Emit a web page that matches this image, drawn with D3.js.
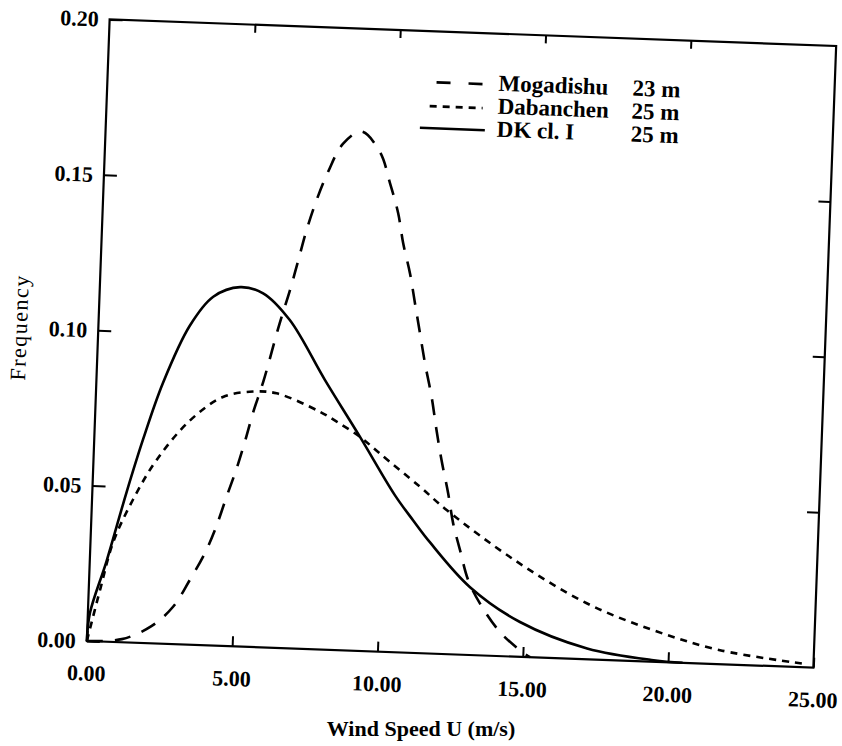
<!DOCTYPE html>
<html><head><meta charset="utf-8">
<script src="https://cdn.jsdelivr.net/npm/d3@7"></script>
<style>html,body{margin:0;padding:0;background:#fff;} svg{display:block}</style>
</head><body><svg id="chart" width="842" height="746"></svg>
<script>
// ---- data ----
const windTicks = [0, 5, 10, 15, 20, 25];
const freqTicks = [0, 0.05, 0.10, 0.15, 0.20];
const windTickLabels = ["0.00", "5.00", "10.00", "15.00", "20.00", "25.00"];
const freqTickLabels = ["0.00", "0.05", "0.10", "0.15", "0.20"];

const seriesNames = ["Mogadishu", "Dabanchen", "DK cl. I"];
const seriesHeights = ["23 m", "25 m", "25 m"];

const mogadishuU = [0, 1.2, 2.2, 2.92, 3.46, 3.94, 4.26, 4.62, 4.93, 5.18, 5.43, 5.74, 6.23, 6.53, 6.78, 7.03, 7.34, 7.7, 8.18, 8.8, 9.46, 9.84, 10.16, 10.37, 10.64, 10.85, 11.06, 11.27, 11.54, 11.75, 11.96, 12.23, 12.44, 12.71, 13.03, 13.46, 14.18, 14.9, 15.25];
const mogadishuF = [0, 0.001, 0.0055, 0.012, 0.0208, 0.0295, 0.0371, 0.048, 0.0572, 0.0659, 0.0755, 0.0855, 0.1045, 0.1148, 0.1245, 0.1345, 0.1444, 0.1536, 0.1628, 0.1669, 0.1605, 0.1507, 0.1411, 0.1315, 0.122, 0.1124, 0.1028, 0.0932, 0.0825, 0.0719, 0.0623, 0.0517, 0.0421, 0.0336, 0.024, 0.0167, 0.0078, 0.0021, 0];

const dabanchenU = [0, 0.4, 0.78, 1.41, 2.17, 3.26, 4.37, 5.4, 6.21, 7.72, 8.31, 9.13, 9.83, 11.25, 12.2, 14.6, 17.13, 19.46, 21.77, 24.6];
const dabanchenF = [0, 0.017, 0.032, 0.046, 0.059, 0.072, 0.080, 0.0821, 0.0818, 0.0764, 0.0734, 0.0688, 0.0637, 0.0535, 0.0463, 0.031, 0.018, 0.0101, 0.0045, 0.0012];

const dkU = [0, 0.07, 0.58, 1.17, 1.68, 2.29, 3.14, 3.91, 4.82, 5.62, 6.57, 7.85, 9.13, 10.4, 11.07, 11.67, 13.1, 14.86, 17.2, 19.5, 20.5];
const dkF = [0, 0.009, 0.026, 0.048, 0.0655, 0.0838, 0.1025, 0.1121, 0.1155, 0.1138, 0.1055, 0.0867, 0.0688, 0.0505, 0.0425, 0.0357, 0.0218, 0.0112, 0.0035, 0.0005, 0];

// ---- layout / styles ----
const W = 727, H = 622;
const styles = [
  {dash: "16,12", legendDash: "14,18", lx1: 329, lx2: 376, ly: 51},
  {dash: "7,6", legendDash: "7,6", lx1: 323, lx2: 376, ly: 75},
  {dash: null, legendDash: null, lx1: 314, lx2: 379, ly: 97}
];
const legendRowY = [57, 80, 103];

const svg = d3.select("#chart");
svg.append("rect").attr("width", 842).attr("height", 746).attr("fill", "#fff");

const g = svg.append("g")
  .attr("transform", "rotate(2.1, 461.75, 343.5) translate(98, 32.5)");

const x = d3.scaleLinear().domain([0, 25]).range([0, W]);
const y = d3.scaleLinear().domain([0, 0.2]).range([H, 0]);

const serif = "'Liberation Serif', 'Times New Roman', serif";

// bottom axis with labels
const xAxis = d3.axisBottom(x).tickValues(windTicks)
  .tickFormat((d, i) => windTickLabels[i]).tickSize(-10).tickPadding(24);
const gx = g.append("g").attr("transform", `translate(0,${H})`).call(xAxis);
// top axis ticks
const gxt = g.append("g").call(d3.axisTop(x).tickValues(windTicks.slice(1, -1)).tickSize(-8).tickFormat(""));
// left axis with labels
const yAxis = d3.axisLeft(y).tickValues(freqTicks)
  .tickFormat((d, i) => freqTickLabels[i]).tickSize(-13).tickPadding(11);
const gy = g.append("g").call(yAxis);
// right axis ticks
const gyr = g.append("g").attr("transform", `translate(${W},0)`)
  .call(d3.axisRight(y).tickValues(freqTicks.slice(1, -1)).tickSize(-12).tickFormat(""));

[gx, gxt, gy, gyr].forEach(a => {
  a.select(".domain").remove();
  a.selectAll(".tick line").attr("stroke", "#000").attr("stroke-width", 2);
  a.selectAll("text").attr("fill", "#000").attr("font-family", serif)
    .attr("font-weight", "bold").attr("font-size", 22);
});

// frame
g.append("rect").attr("x", 0).attr("y", 0).attr("width", W).attr("height", H)
  .attr("fill", "none").attr("stroke", "#000").attr("stroke-width", 2.2);

// curves
const seriesData = [
  mogadishuU.map((u, i) => [u, mogadishuF[i]]),
  dabanchenU.map((u, i) => [u, dabanchenF[i]]),
  dkU.map((u, i) => [u, dkF[i]])
];
const line = d3.line().x(d => x(d[0])).y(d => y(Math.max(0, d[1])))
  .curve(d3.curveCatmullRom.alpha(0.5));
seriesData.forEach((data, i) => {
  g.append("path").datum(data).attr("d", line)
    .attr("fill", "none").attr("stroke", "#000").attr("stroke-width", 2.6)
    .attr("stroke-dasharray", styles[i].dash);
});

// legend
seriesNames.forEach((name, i) => {
  const s = styles[i];
  g.append("line").attr("x1", s.lx1).attr("x2", s.lx2).attr("y1", s.ly).attr("y2", s.ly)
    .attr("stroke", "#000").attr("stroke-width", 2.6).attr("stroke-dasharray", s.legendDash);
  g.append("text").attr("x", 391).attr("y", legendRowY[i]).text(name)
    .attr("font-family", serif).attr("font-weight", "bold").attr("font-size", 23).attr("fill", "#000");
  g.append("text").attr("x", 525).attr("y", legendRowY[i]).text(seriesHeights[i])
    .attr("font-family", serif).attr("font-weight", "bold").attr("font-size", 23).attr("fill", "#000");
});

// axis titles
g.append("text").attr("transform", `translate(-79,${H / 2}) rotate(-90)`)
  .attr("text-anchor", "middle").attr("dy", "0.35em")
  .attr("font-family", serif).attr("font-size", 22).attr("letter-spacing", 1.5)
  .attr("fill", "#000").text("Frequency");

svg.append("text").attr("x", 421).attr("y", 736).attr("text-anchor", "middle")
  .attr("font-family", serif).attr("font-weight", "bold").attr("font-size", 22)
  .attr("fill", "#000").text("Wind Speed U (m/s)");
</script></body></html>
